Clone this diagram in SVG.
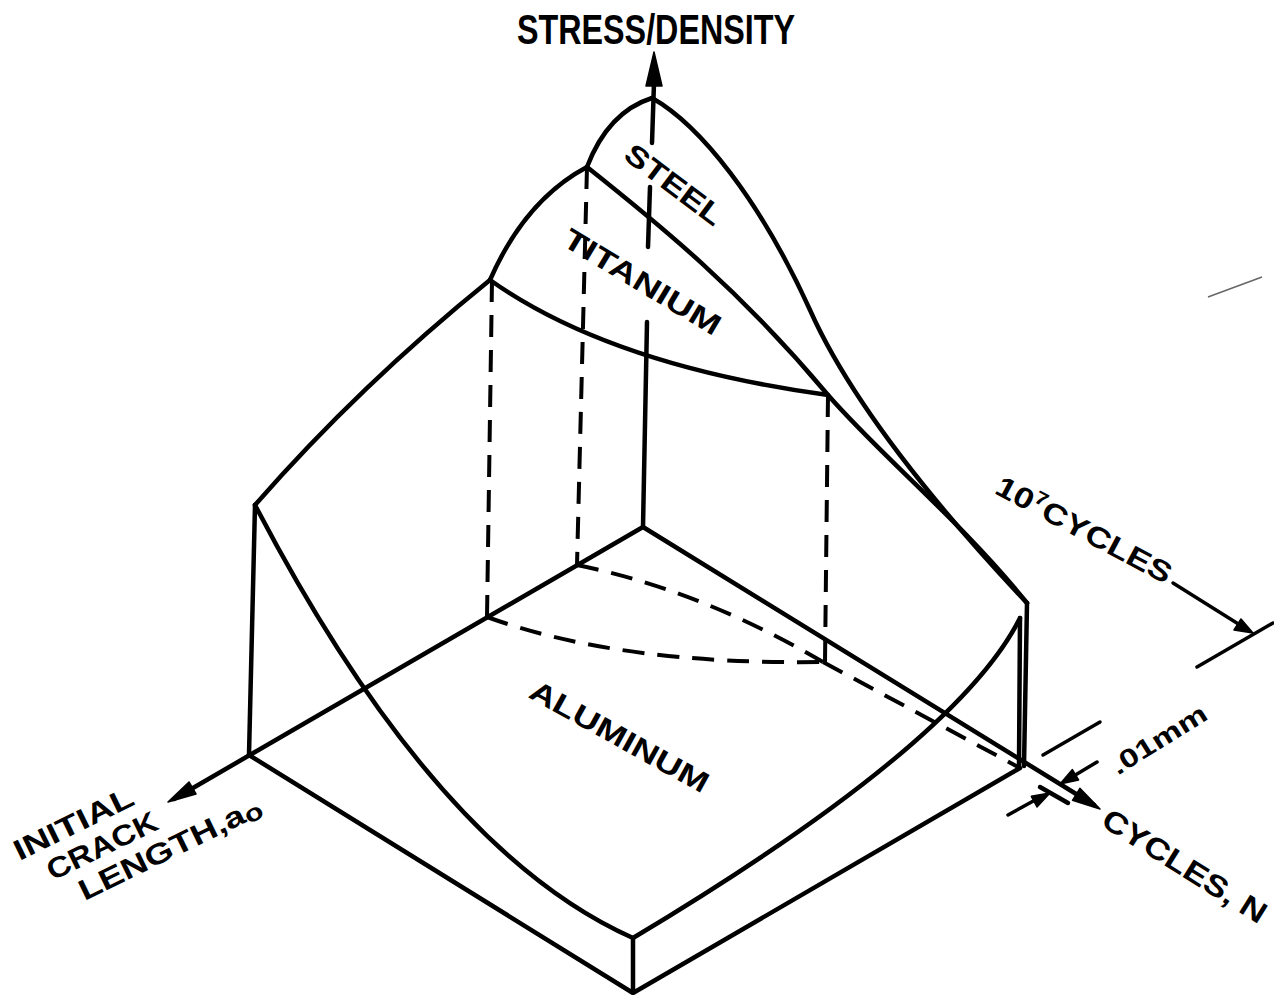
<svg xmlns="http://www.w3.org/2000/svg" width="1274" height="995" viewBox="0 0 1274 995">
<style>
.ln{fill:none;stroke:#000;stroke-width:4.5;stroke-linecap:round;stroke-linejoin:round}
.th{fill:none;stroke:#000;stroke-width:3.5;stroke-linecap:round}
.ds{fill:none;stroke:#000;stroke-width:4;stroke-dasharray:22 13}
.hd{fill:#000;stroke:#000;stroke-width:1.5;stroke-linejoin:round}
.lb{font-family:"Liberation Sans","DejaVu Sans",sans-serif;font-weight:bold;fill:#000}
</style>
<rect width="1274" height="995" fill="#fff"/>
<g id="connectors">
  <g id="axis-stress">
    <path class="ln" d="M654,83 L652,143 M650,187 L648,247 M647,322 L643,527"/>
    <polygon class="hd" points="654,52 646,86 662,86"/>
  </g>
  <g id="axis-crack">
    <path class="ln" d="M643,527 L174,799"/>
    <polygon class="hd" points="168,802 196,794 189,782"/>
  </g>
  <g id="axis-cycles">
    <path class="ln" d="M643,527 L1094,805"/>
    <polygon class="hd" points="1100,809 1072.5,800.3 1079.9,788.3"/>
  </g>
</g>
<g id="surface">
  <path class="ln" d="M255,505 L249,755"/>
  <path class="ln" d="M255,505 Q360,385 490,280"/>
  <path class="ln" d="M490,280 Q525,200 587,167"/>
  <path class="ln" d="M587,167 Q608,112 652,98"/>
  <path class="ln" d="M652,98 C700,125 760,200 810,310 C850,400 930,500 1027,603"/>
  <path class="ln" d="M587,167 C660,225 740,290 828,395 C880,455 960,520 1027,603"/>
  <path class="ln" d="M490,280 Q610,365 828,395"/>
  <path class="ln" d="M1027,603 L1024,766 M1020,618 L1019,766"/>
  <path class="ln" d="M633,938 Q957,744 1020,618"/>
  <path class="ln" d="M255,505 Q435,850 633,938"/>
  <path class="ln" d="M249,755 L633,993 L1020,768 M633,938 L633,993"/>
</g>
<g id="hidden-lines">
  <path class="ds" d="M492,280 L487,617"/>
  <path class="ds" d="M587,167 L577,565"/>
  <path class="ds" d="M828,395 L825,662"/>
  <path class="ds" d="M487,617 Q620,665 823,662"/>
  <path class="ds" d="M577,565 Q700,590 823,662"/>
  <path class="ds" d="M823,662 L1020,768"/>
</g>
<g id="dimensions">
  <path class="th" d="M1197,667 L1273,623"/>
  <path class="th" d="M1173,583 L1240,625"/>
  <polygon class="hd" points="1253,633 1234,630 1241,619"/>
  <path class="th" d="M1043,755 L1100,722"/>
  <path class="th" d="M1097,762 L1072,777"/>
  <polygon class="hd" points="1060,784 1078.6,780 1072.4,769.6"/>
  <path class="ln" d="M1040,787 L1068,803"/>
  <path class="th" d="M1008,815 L1037,799"/>
  <polygon class="hd" points="1050,793 1037,807 1031.3,796.3"/>
  <path d="M1208,297 L1262,277" stroke="#666" stroke-width="1.5" fill="none"/>
</g>
<g id="labels">
  <text class="lb" x="517" y="44" font-size="42" textLength="278" lengthAdjust="spacingAndGlyphs">STRESS/DENSITY</text>
  <text class="lb" font-size="29" dominant-baseline="central" textLength="115" lengthAdjust="spacingAndGlyphs" transform="translate(628,150) rotate(37)">STEEL</text>
  <text class="lb" font-size="29" dominant-baseline="central" textLength="178" lengthAdjust="spacingAndGlyphs" transform="translate(566,236) rotate(31)">TITANIUM</text>
  <text class="lb" font-size="29" dominant-baseline="central" textLength="200" lengthAdjust="spacingAndGlyphs" transform="translate(532,688) rotate(29)">ALUMINUM</text>
  <text class="lb" font-size="30" dominant-baseline="central" textLength="188" lengthAdjust="spacingAndGlyphs" transform="translate(1105,816) rotate(32)">CYCLES, N</text>
  <text class="lb" font-size="29" dominant-baseline="central" textLength="195" lengthAdjust="spacingAndGlyphs" transform="translate(998,484) rotate(28)">10<tspan font-size="19" dy="-8">7</tspan><tspan dy="8">CYCLES</tspan></text>
  <text class="lb" font-size="29" dominant-baseline="central" textLength="130" lengthAdjust="spacingAndGlyphs" transform="translate(15,852) rotate(-26)">INITIAL</text>
  <text class="lb" font-size="29" dominant-baseline="central" textLength="120" lengthAdjust="spacingAndGlyphs" transform="translate(48,872) rotate(-26)">CRACK</text>
  <text class="lb" font-size="29" dominant-baseline="central" textLength="200" lengthAdjust="spacingAndGlyphs" transform="translate(80,892) rotate(-26)">LENGTH,a<tspan font-size="24" dy="4">o</tspan></text>
  <text class="lb" font-size="26" dominant-baseline="central" textLength="108" lengthAdjust="spacingAndGlyphs" transform="translate(1113,768) rotate(-32)">.01mm</text>
</g>
</svg>
